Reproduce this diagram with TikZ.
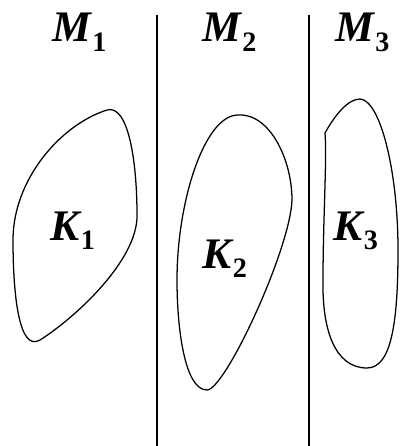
\documentclass[tikz,border=0pt]{standalone}
\usepackage{fontspec}
\setmainfont{Liberation Serif}
\newcommand{\setlbl}[2]{{\bfseries\itshape #1}\kern1pt\raisebox{-7pt}{\fontsize{20}{20}\selectfont\bfseries #2}}
\tikzset{
  blob/.style={line width=0.9pt},
  wall/.style={line width=1.2pt},
  lbl/.style={font=\fontsize{31}{36}\selectfont, inner sep=0pt, anchor=base west}
}
\begin{document}
\begin{tikzpicture}[x=0.025cm, y=-0.025cm]
    \useasboundingbox (0,0) rectangle (400,446);

    % Separating lines
    \draw[wall] (157,15) -- (157,446);
    \draw[wall] (309,15) -- (309,446);

    % Region names
    \node[lbl] (m1) at (52,42) {\setlbl{M}{1}};
    \node[lbl] (m2) at (202,42) {\setlbl{M}{2}};
    \node[lbl] (m3) at (335,42) {\setlbl{M}{3}};

    % Set K1
    \draw[blob] (107,110) .. controls (128,104) and (137,160) .. (137,215)
        .. controls (138,260) and (75,318) .. (40,340)
        .. controls (20,352) and (13,300) .. (13,240)
        .. controls (13,180) and (60,125) .. cycle;
    \node[lbl] (k1) at (50,240) {\setlbl{K}{1}};

    % Set K2
    \draw[blob] (238,115) .. controls (270,113) and (292,160) .. (292,200)
        .. controls (290,250) and (225,390) .. (207,390)
        .. controls (185,390) and (177,330) .. (177,280)
        .. controls (177,200) and (205,115) .. cycle;
    \node[lbl] (k2) at (202,268) {\setlbl{K}{2}};

    % Set K3
    \draw[blob] (325,133) .. controls (335,115) and (348,99) .. (360,99)
        .. controls (380,100) and (398,170) .. (398,250)
        .. controls (398,320) and (392,368) .. (367,368)
        .. controls (335,368) and (322,330) .. (323,280)
        .. controls (323,220) and (327,160) .. cycle;
    \node[lbl] (k3) at (333,240) {\setlbl{K}{3}};
\end{tikzpicture}
\end{document}
